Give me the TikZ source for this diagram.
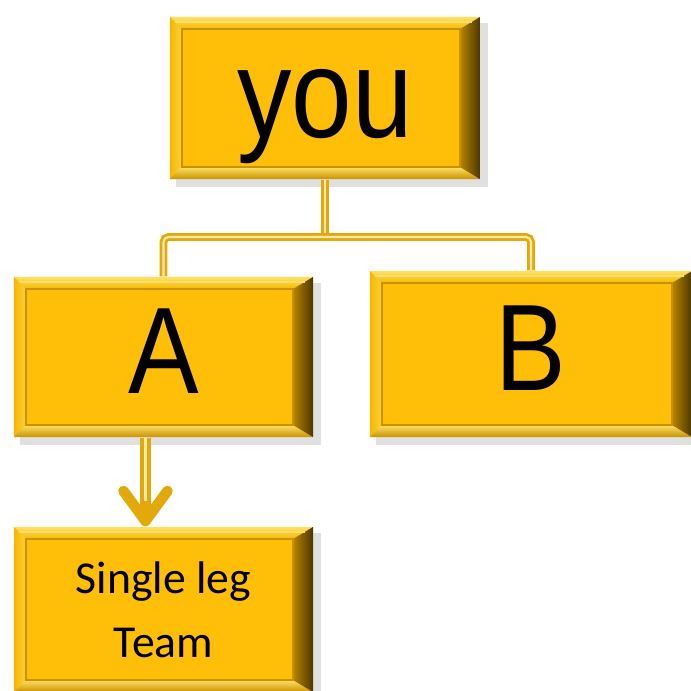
\documentclass[tikz,border=0pt]{standalone}
\usepackage{graphicx}
\usepackage{fontspec}
\setmainfont{Carlito}
\newfontfamily\arialfont{Liberation Sans}
\usetikzlibrary{arrows.meta}
\usetikzlibrary{backgrounds}
\definecolor{goldface}{HTML}{FFBE08}
\definecolor{goldlight}{HTML}{FFE066}
\definecolor{goldrim}{HTML}{F5B800}
\definecolor{goldmid}{HTML}{B88400}
\definecolor{golddark}{HTML}{4A3600}
\definecolor{goldedge}{HTML}{C99200}
\definecolor{linkgold}{HTML}{E3A90B}
\definecolor{linklight}{HTML}{FFE9A8}
\tikzset{
  goldbox/.style={rectangle, inner sep=0pt, fill=goldface, text=black, text depth=0pt,
    path picture={
      \path (path picture bounding box.north west) coordinate (nw)
            (path picture bounding box.north east) coordinate (ne)
            (path picture bounding box.south east) coordinate (se)
            (path picture bounding box.south west) coordinate (sw)
            ([shift={(0.12cm,-0.12cm)}]nw) coordinate (inw)
            ([shift={(-0.2cm,-0.12cm)}]ne) coordinate (ine)
            ([shift={(-0.2cm,0.12cm)}]se) coordinate (ise)
            ([shift={(0.12cm,0.12cm)}]sw) coordinate (isw);
      \shade[top color=goldlight, bottom color=goldrim] (nw) -- (ne) -- (ine) -- (inw) -- cycle;
      \shade[left color=goldrim, right color=goldlight!60!goldrim] (nw) -- (inw) -- (isw) -- (sw) -- cycle;
      \shade[top color=goldlight, bottom color=goldedge] (sw) -- (isw) -- (ise) -- (se) -- cycle;
      \shade[left color=goldmid, right color=golddark] (ne) -- (ine) -- (ise) -- (se) -- cycle;
      \draw[goldedge, line width=0.6pt] (inw) -- (ine) -- (ise) -- (isw) -- cycle;
      \draw[goldlight, line width=0.5pt] ([shift={(0.05cm,-0.05cm)}]nw) -- ([shift={(-0.08cm,-0.05cm)}]ne);
    }},
  letter/.style={font=\arialfont\fontsize{35}{35}\selectfont, text depth=3.5pt},
  link/.style={draw=linkgold, double=linklight, line width=0.8pt, double distance=0.6pt, rounded corners=0.05cm},
  arrowlink/.style={draw=linkgold, line width=3pt, -{Straight Barb[length=0.3cm, width=0.44cm, round]},
    postaction={draw=linklight, line width=0.8pt, -, shorten >=0.25cm}},
}

\begin{document}
\begin{tikzpicture}[x=0.01cm, y=-0.01cm]
\useasboundingbox (0,0) rectangle (691,690);
\clip (0,0) rectangle (691,690);

\node[goldbox, minimum width=3.1cm, minimum height=1.62cm, text height=22.5pt, font=\arialfont\fontsize{36}{36}\selectfont] (you) at (325,98) {\scalebox{0.86}[1]{you}\hspace{0.22cm}};
\node[goldbox, letter, minimum width=2.99cm, minimum height=1.6cm] (A) at (163.5,357) {\scalebox{0.86}[1]{A}\hspace{0.2cm}};
\node[goldbox, letter, minimum width=3.22cm, minimum height=1.66cm] (B) at (531,354) {\scalebox{0.86}[1]{B}\hspace{0.08cm}};
\node[goldbox, minimum width=2.99cm, minimum height=1.65cm, align=center, font=\fontsize{13}{18}\selectfont] (S) at (163.5,609.5) {Single leg\\Team};

\coordinate (bar) at (325,237);
\draw[link] (you.south) -- (bar);
\draw[link] (A.north) |- (bar) -| (B.north);
\draw[arrowlink] ([xshift=-0.18cm]A.south) -- ([xshift=-0.18cm]S.north);

\begin{scope}[on background layer]
\fill[white] (0,0) rectangle (691,690);
\foreach \n in {you, A, B, S}
  \fill[black, opacity=0.12] ([shift={(0.07cm,-0.07cm)}]\n.south west) rectangle ([shift={(0.07cm,-0.07cm)}]\n.north east);
\end{scope}
\end{tikzpicture}
\end{document}
